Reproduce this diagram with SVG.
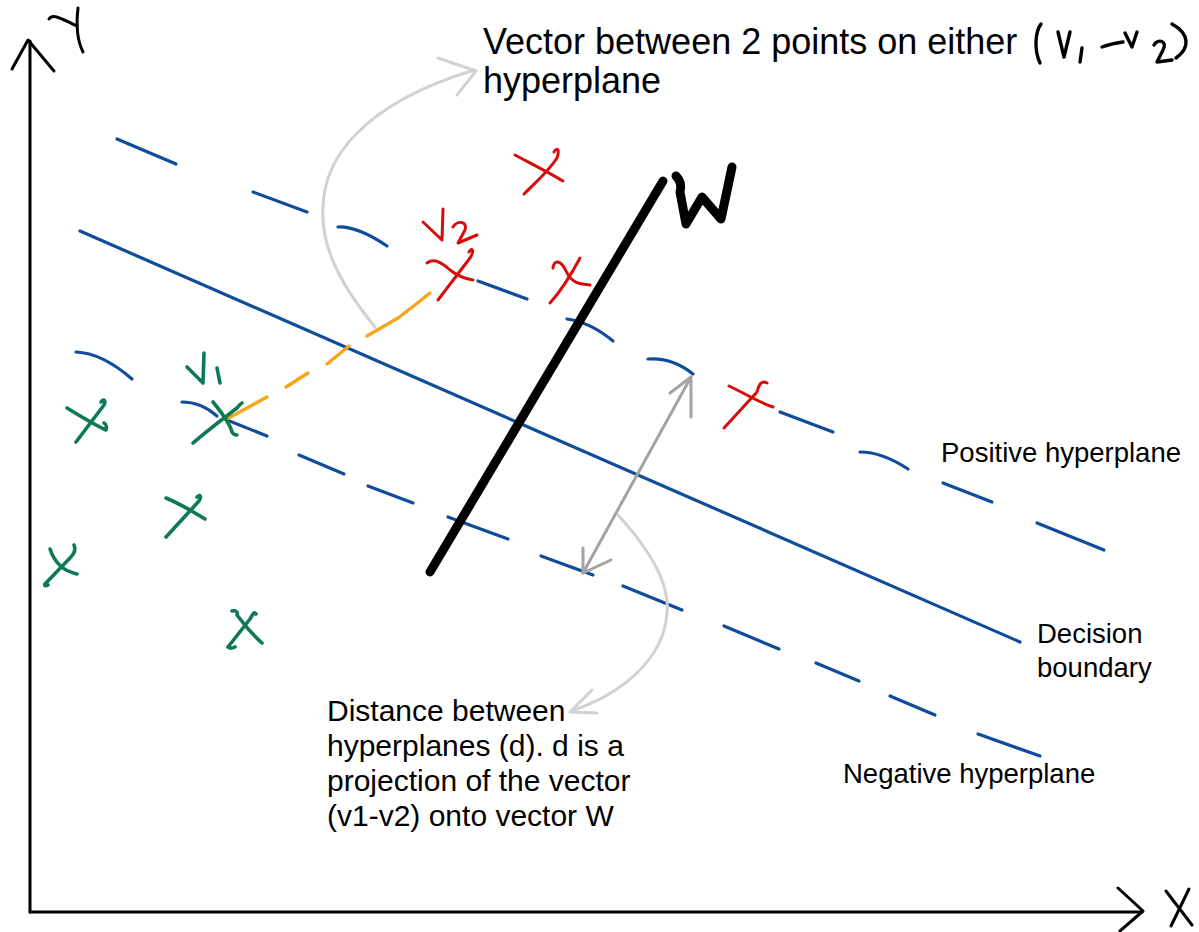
<svg xmlns="http://www.w3.org/2000/svg" width="1199" height="932" viewBox="0 0 1199 932">
<style>
  .ink{fill:none;stroke:#000;stroke-width:3;stroke-linecap:round;stroke-linejoin:round}
  .blue{fill:none;stroke:#0f4c9c;stroke-width:3.2;stroke-linecap:round}
  .red{fill:none;stroke:#d90c0c;stroke-width:3;stroke-linecap:round;stroke-linejoin:round}
  .green{fill:none;stroke:#0e7a55;stroke-width:3.6;stroke-linecap:round;stroke-linejoin:round}
  .orange{fill:none;stroke:#f8a51b;stroke-width:3.4;stroke-linecap:round;stroke-linejoin:round}
  .w{fill:none;stroke:#000;stroke-width:9;stroke-linecap:round;stroke-linejoin:round}
  .note{fill:none;stroke:#d2d2d2;stroke-width:3;stroke-linecap:round;stroke-linejoin:round}
  .dist{fill:none;stroke:#a3a3a3;stroke-width:3;stroke-linecap:round;stroke-linejoin:round}
  .lbl{font-family:"Liberation Sans",Arial,Helvetica,sans-serif;fill:#000}
</style>
<rect width="1199" height="932" fill="#fff"/>

<g id="axis-y">
  <path class="ink" d="M30,41 V912"/>
  <path class="ink" d="M12,69 L28,40 L54,71"/>
  <path class="ink" d="M49,19 C53,13 62,19 77,26"/>
  <path class="ink" d="M78,8 C76,25 77,40 83,52"/>
</g>
<g id="axis-x">
  <path class="ink" d="M30,912 H1142"/>
  <path class="ink" d="M1118,888 L1143,911 L1120,931"/>
  <path class="ink" d="M1166,891 C1175,903 1183,913 1192,925"/>
  <path class="ink" d="M1189,889 L1171,926"/>
</g>

<g id="positive-hyperplane">
  <path class="blue" d="M117,139 L176,164"/>
  <path class="blue" d="M253,192 L307,212"/>
  <path class="blue" d="M338,227 Q357,226 387,246"/>
  <path class="blue" d="M478,281 L527,299"/>
  <path class="blue" d="M567,319 Q590,322 613,341"/>
  <path class="blue" d="M648,359 Q672,357 693,374"/>
  <path class="blue" d="M780,412 L833,432"/>
  <path class="blue" d="M860,452 Q882,452 908,469"/>
  <path class="blue" d="M943,483 L992,502"/>
  <path class="blue" d="M1037,523 L1104,550"/>
</g>

<g id="decision-boundary">
  <path class="blue" d="M80,231 L1020,642"/>
</g>

<g id="negative-hyperplane">
  <path class="blue" d="M76,352 Q102,353 132,379"/>
  <path class="blue" d="M182,402 Q201,402 217,416"/>
  <path class="blue" d="M227,420 L267,436"/>
  <path class="blue" d="M299,455 L344,474"/>
  <path class="blue" d="M368,486 L413,503"/>
  <path class="blue" d="M448,517 L508,539"/>
  <path class="blue" d="M541,556 L593,575"/>
  <path class="blue" d="M623,586 L682,610"/>
  <path class="blue" d="M724,626 L779,649"/>
  <path class="blue" d="M816,663 L859,681"/>
  <path class="blue" d="M890,696 L935,715"/>
  <path class="blue" d="M978,734 L1040,756"/>
</g>

<g id="w-vector">
  <path class="w" d="M663,181 L430,572"/>
  <path class="ink" style="stroke-width:9" d="M676,176 C680,180 682,185 680,192 L686,224 L702,197 L721,219 L732,167"/>
</g>

<g id="v1-v2-vector">
  <path class="orange" d="M227,419 L267,397"/>
  <path class="orange" d="M286,387 L308,373"/>
  <path class="orange" d="M327,364 L349,346"/>
  <path class="orange" d="M367,336 L398,318 Q414,306 430,293"/>
</g>

<g id="points-positive">
  <path class="red" d="M515,155 C530,163 548,172 563,181"/>
  <path class="red" d="M554,152 C557,147 560,149 557,158 C548,172 536,182 524,194"/>
  <g id="v2">
    <path class="red" d="M427,263 C434,258 441,262 450,270 C459,277 466,279 473,280"/>
    <path class="red" d="M469,252 C472,247 475,250 470,258 L438,300"/>
    <path class="red" d="M423,222 L442,240 L443,209"/>
    <path class="red" d="M453,227 C457,220 468,221 465,230 L458,243 L477,235"/>
  </g>
  <path class="red" d="M553,268 C554,259 561,260 566,271 C572,284 580,284 590,285"/>
  <path class="red" d="M580,258 C572,273 562,290 550,303"/>
  <path class="red" d="M729,386 C744,393 758,402 773,407"/>
  <path class="red" d="M767,383 C762,380 759,384 757,392 L724,428"/>
</g>

<g id="points-negative">
  <path class="green" d="M67,408 C80,416 93,424 106,430 C107,427 106,424 104,423"/>
  <path class="green" d="M101,402 C104,398 106,401 104,405 L76,442"/>
  <g id="v1">
    <path class="green" d="M193,443 C208,430 224,418 237,408 C240,404 242,403 242,403"/>
    <path class="green" d="M213,402 C222,413 230,424 232,432 C233,434 235,435 237,435"/>
    <path class="green" d="M187,367 L203,383 L204,353"/>
    <path class="green" d="M217,368 L220,383"/>
  </g>
  <path class="green" d="M166,498 C178,503 192,511 205,519"/>
  <path class="green" d="M197,497 C200,494 202,496 199,501 L166,537"/>
  <path class="green" d="M50,549 C54,561 62,571 77,574"/>
  <path class="green" d="M74,545 C76,549 75,553 70,558 L45,584 C44,586 46,586 48,585"/>
  <path class="green" d="M232,611 C236,610 238,612 237,615 C245,626 253,635 262,643"/>
  <path class="green" d="M256,614 C254,611 253,614 250,619 L228,647 C230,649 233,648 235,647"/>
</g>

<g id="connectors">
  <g id="margin-arrow">
    <path class="dist" d="M691,377 L583,573"/>
    <path class="dist" d="M670,393 L691,377 L691,417"/>
    <path class="dist" d="M583,548 L583,573 L611,560"/>
  </g>
  <g id="note-arrow-top">
    <path class="note" d="M375,327 C345,290 320,250 323,207 C324,160 360,105 474,70"/>
    <path class="note" d="M438,58 L476,71 L457,95"/>
  </g>
  <g id="note-arrow-bottom">
    <path class="note" d="M618,515 C650,550 670,585 667,613 C664,660 620,695 571,711"/>
    <path class="note" d="M592,690 L570,712 L597,713"/>
  </g>
</g>

<g id="label-vector">
  <text class="lbl" x="483" y="54" font-size="36">Vector between 2 points on either</text>
  <text class="lbl" x="483" y="93" font-size="36">hyperplane</text>
  <g style="stroke-width:3.4">
  <path class="ink" style="stroke-width:3.4" d="M1041,24 C1035,32 1034,50 1040,63"/>
  <path class="ink" style="stroke-width:3.4" d="M1058,32 L1064,57 L1070,32"/>
  <path class="ink" style="stroke-width:3.4" d="M1082,48 L1080,62"/>
  <path class="ink" style="stroke-width:3.4" d="M1102,47 C1110,44 1116,43 1123,42"/>
  <path class="ink" style="stroke-width:3.4" d="M1125,33 L1132,47 L1137,32"/>
  <path class="ink" style="stroke-width:3.4" d="M1154,45 C1158,38 1168,41 1163,50 L1157,62 L1172,60"/>
  <path class="ink" style="stroke-width:3.4" d="M1172,24 C1190,34 1190,48 1176,58"/>
  </g>
</g>
<g id="label-positive">
  <text class="lbl" x="941" y="462" font-size="27.5">Positive hyperplane</text>
</g>
<g id="label-decision">
  <text class="lbl" x="1037" y="643" font-size="27.5">Decision</text>
  <text class="lbl" x="1037" y="677" font-size="27.5">boundary</text>
</g>
<g id="label-negative">
  <text class="lbl" x="843" y="783" font-size="27.5">Negative hyperplane</text>
</g>
<g id="label-distance">
  <text class="lbl" x="327" y="721" font-size="30">Distance between</text>
  <text class="lbl" x="327" y="756" font-size="30">hyperplanes (d). d is a</text>
  <text class="lbl" x="327" y="791" font-size="30">projection of the vector</text>
  <text class="lbl" x="327" y="826" font-size="30">(v1-v2) onto vector W</text>
</g>
</svg>
